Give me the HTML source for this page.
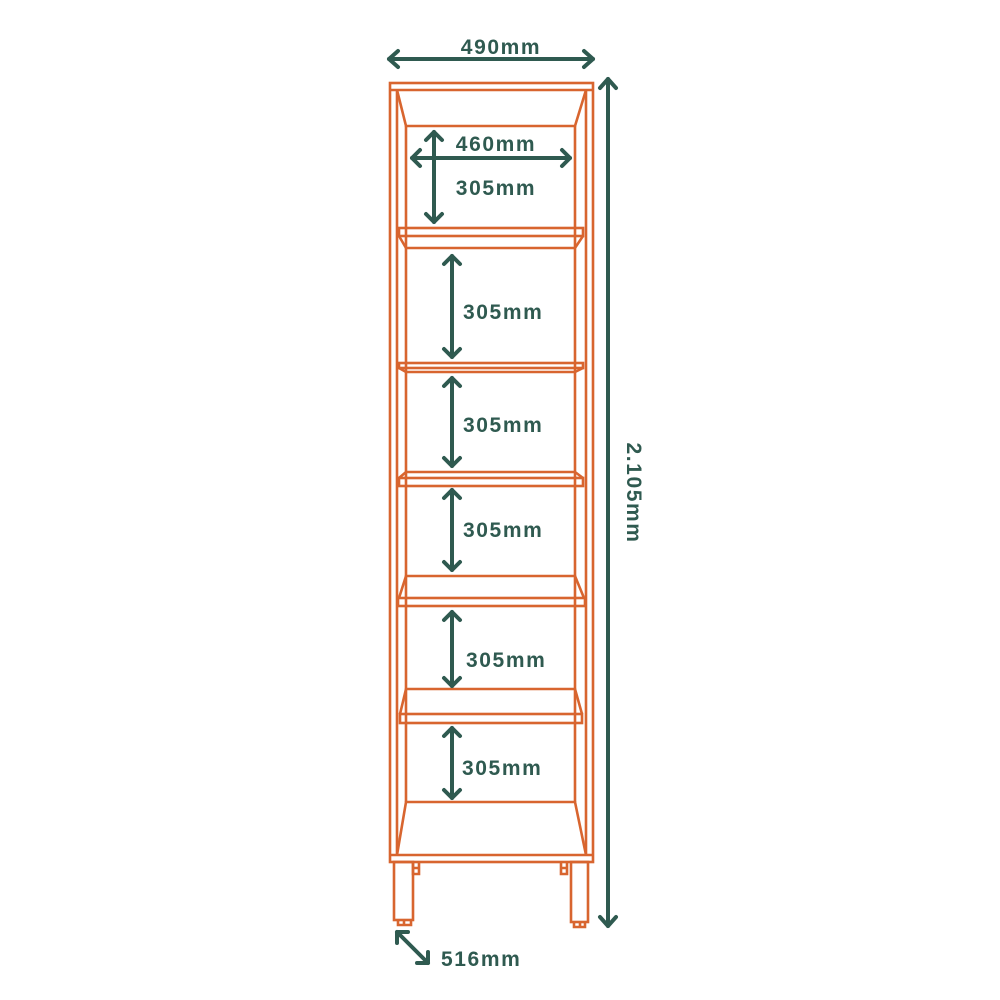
<!DOCTYPE html>
<html><head><meta charset="utf-8"><style>
html,body{margin:0;padding:0;background:#fff}
svg{display:block}
text{font-family:"Liberation Sans",sans-serif;font-weight:bold;fill:#2f5a50;font-size:21px;letter-spacing:1.6px}
</style></head><body>
<svg width="1000" height="1000" viewBox="0 0 1000 1000" xmlns="http://www.w3.org/2000/svg">
<g fill="none" stroke="#d8652f" stroke-width="2.6" stroke-linejoin="miter">
<rect x="390" y="83" width="203" height="779"/>
<line x1="397" y1="90" x2="397" y2="855"/>
<line x1="586" y1="90" x2="586" y2="855"/>
<line x1="390" y1="90" x2="593" y2="90"/>
<line x1="406" y1="126" x2="406" y2="802"/>
<line x1="575" y1="126" x2="575" y2="802"/>
<polyline points="397,90 406,126 575,126 586,90"/>
<rect x="399" y="228" width="184" height="8"/>
<polyline points="399,236 406,248 575,248 583,236"/>
<rect x="399" y="363" width="184" height="5"/>
<polyline points="399,368 406,372 575,372 583,368"/>
<polyline points="399,478 406,472 575,472 583,478"/>
<rect x="399" y="478" width="184" height="8"/>
<polyline points="399,598 406,576 575,576 584,598"/>
<rect x="398" y="598" width="187" height="8"/>
<polyline points="400,714 406,689 575,689 582,714"/>
<rect x="400" y="714" width="182" height="9"/>
<polyline points="397,855 406,802 575,802 586,855"/>
<line x1="390" y1="855" x2="593" y2="855"/>
<rect x="394" y="862" width="19" height="58"/>
<path d="M398 920 v5 h13 v-5 M404 920 v5"/>
<rect x="571" y="862" width="17" height="60"/>
<path d="M574 922 v5 h11 v-5 M580 922 v5"/>
<path d="M413 862 v12 h6 v-12 M413 868 h6"/>
<path d="M567 862 v12 h-6 v-12 M567 868 h-6"/>
</g>
<g fill="none" stroke="#2f5a50" stroke-width="4" stroke-linecap="round" stroke-linejoin="round">
<line x1="389" y1="59" x2="593" y2="59"/>
<polyline points="398,51 389,59 398,67"/><polyline points="584,51 593,59 584,67"/>
<line x1="608" y1="79" x2="608" y2="926"/>
<polyline points="600,88 608,79 616,88"/><polyline points="600,917 608,926 616,917"/>
<line x1="412" y1="158" x2="570" y2="158"/>
<polyline points="420,150 412,158 420,166"/><polyline points="562,150 570,158 562,166"/>
<line x1="434" y1="132" x2="434" y2="222"/>
<polyline points="426,140 434,132 442,140"/><polyline points="426,214 434,222 442,214"/>
<line x1="452" y1="256" x2="452" y2="357"/>
<polyline points="444,264 452,256 460,264"/><polyline points="444,349 452,357 460,349"/>
<line x1="452" y1="378" x2="452" y2="466"/>
<polyline points="444,386 452,378 460,386"/><polyline points="444,458 452,466 460,458"/>
<line x1="452" y1="490" x2="452" y2="570"/>
<polyline points="444,498 452,490 460,498"/><polyline points="444,562 452,570 460,562"/>
<line x1="452" y1="612" x2="452" y2="686"/>
<polyline points="444,620 452,612 460,620"/><polyline points="444,678 452,686 460,678"/>
<line x1="452" y1="728" x2="452" y2="798"/>
<polyline points="444,736 452,728 460,736"/><polyline points="444,790 452,798 460,790"/>
<line x1="397" y1="932" x2="428" y2="963"/>
<polyline points="397,943 397,932 408,932"/><polyline points="417,963 428,963 428,952"/>
</g>
<text x="501" y="54" text-anchor="middle">490mm</text>
<text x="496" y="151" text-anchor="middle">460mm</text>
<text x="496" y="195" text-anchor="middle">305mm</text>
<text x="463" y="319">305mm</text>
<text x="463" y="432">305mm</text>
<text x="463" y="537">305mm</text>
<text x="466" y="667">305mm</text>
<text x="462" y="775">305mm</text>
<text x="441" y="966">516mm</text>
<text x="0" y="0" text-anchor="middle" transform="translate(627,493) rotate(90)">2.105mm</text>
</svg>
</body></html>
